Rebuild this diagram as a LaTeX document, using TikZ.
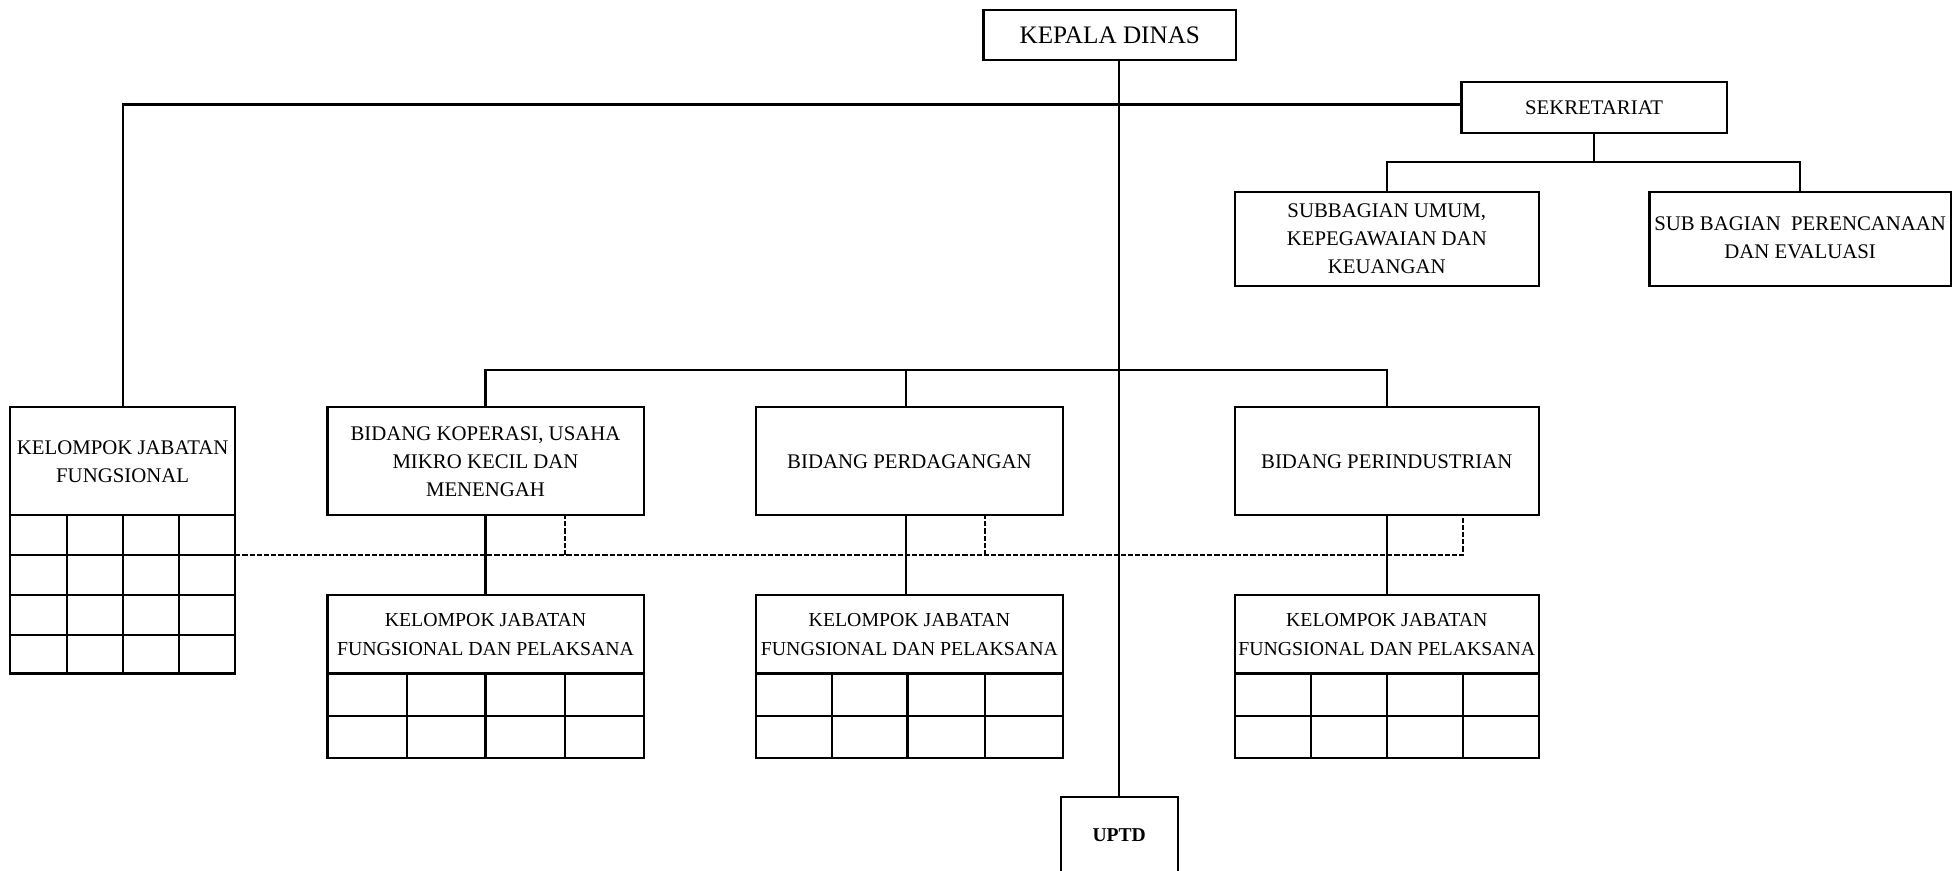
\documentclass[tikz,border=0pt]{standalone}
\usepackage{fontspec}
\setmainfont{Liberation Serif}
\tikzset{
  box/.style={draw, line width=1.1pt, inner sep=0pt, outer sep=0pt, align=center, font=\fontsize{10.4}{14}\selectfont},
  conn/.style={line width=1.1pt},
  gridline/.style={line width=1.1pt},
  dashline/.style={line width=1.1pt, dash pattern=on 2.6pt off 1pt},
}
\newcommand\bx[7][]{%
  \pgfmathsetmacro\bw{(#5-#3)*0.6225}\pgfmathsetmacro\bh{(#6-#4)*0.6225}%
  \node[box, minimum width=\bw pt, minimum height=\bh pt, #1] (#2) at ({(#3+#5)/2},{(#4+#6)/2}) {#7};}
\begin{document}
\begin{tikzpicture}[x=0.6225pt, y=-0.6225pt]
\useasboundingbox (0,0) rectangle (1568,699);
% boxes
\bx[font=\fontsize{12.6}{15}\selectfont]{kd}{790}{8}{993}{48}{KEPALA DINAS}
\bx{sek}{1174}{66}{1387}{107}{SEKRETARIAT}
\bx{sub1}{992}{154}{1236}{230}{SUBBAGIAN UMUM,\\KEPEGAWAIAN DAN\\KEUANGAN}
\bx{sub2}{1325}{154}{1567}{230}{\raisebox{-3pt}{\begin{tabular}{@{}c@{}}SUB BAGIAN\ \ PERENCANAAN\\DAN EVALUASI\end{tabular}}}
\bx{kjf}{8}{327}{189}{414}{KELOMPOK JABATAN\\FUNGSIONAL}
\bx{kjfg}{8}{414}{189}{541}{}
\bx{b1}{263}{327}{517}{414}{BIDANG KOPERASI, USAHA\\MIKRO KECIL DAN\\MENENGAH}
\bx{b2}{607}{327}{854}{414}{BIDANG PERDAGANGAN}
\bx{b3}{992}{327}{1236}{414}{BIDANG PERINDUSTRIAN}
\bx[font=\fontsize{9.9}{14.3}\selectfont]{k1}{263}{478}{517}{541}{KELOMPOK JABATAN\\FUNGSIONAL DAN PELAKSANA}
\bx{k1g}{263}{541}{517}{609}{}
\bx[font=\fontsize{9.9}{14.3}\selectfont]{k2}{607}{478}{854}{541}{KELOMPOK JABATAN\\FUNGSIONAL DAN PELAKSANA}
\bx{k2g}{607}{541}{854}{609}{}
\bx[font=\fontsize{9.9}{14.3}\selectfont]{k3}{992}{478}{1236}{541}{KELOMPOK JABATAN\\FUNGSIONAL DAN PELAKSANA}
\bx{k3g}{992}{541}{1236}{609}{}
\bx[font=\bfseries\fontsize{9.8}{12}\selectfont]{uptd}{852}{640}{946}{702}{UPTD}
% grids
\foreach \yy in {446,478,510} \draw[gridline] (8,\yy) -- (189,\yy);
\foreach \xx in {54,99,144} \draw[gridline] (\xx,414) -- (\xx,541);
\foreach \xa/\xb/\xc/\xl/\xr in {327/390/454/263/517, 668/729/791/607/854, 1053/1114/1175/992/1236} {
  \draw[gridline] (\xl,575) -- (\xr,575);
  \foreach \xx in {\xa,\xb,\xc} \draw[gridline] (\xx,541) -- (\xx,609);
}
% coordinates
\coordinate (hl) at (1174,84);
\coordinate (sb) at (1281,130);
\coordinate (bb) at (899,297);
\coordinate (b2x) at (728,297);
\coordinate (d1) at (454,446);
\coordinate (d2) at (791,446);
\coordinate (d3) at (1175,446);
% connectors
\draw[conn] (uptd.north) -- (uptd.north |- kd.south);
\draw[conn] (sek.west |- hl) -| (kjf.north);
\draw[conn] (sek.south) -- (sek.south |- sb);
\draw[conn] (sub1.north) |- (sub2.north |- sb) -- (sub2.north);
\draw[conn] (b1.north) |- (b3.north |- bb) -- (b3.north);
\draw[conn] (b2.north -| b2x) -- (b2x);
\draw[conn] (b1.south) -- (k1.north);
\draw[conn] (b2.south -| b2x) -- (k2.north -| b2x);
\draw[conn] (b3.south) -- (k3.north);
\draw[dashline] (kjfg.east |- d1) -- (d3) -- (b3.south -| d3);
\draw[dashline] (d1) -- (b1.south -| d1);
\draw[dashline] (d2) -- (b2.south -| d2);
\end{tikzpicture}
\end{document}
